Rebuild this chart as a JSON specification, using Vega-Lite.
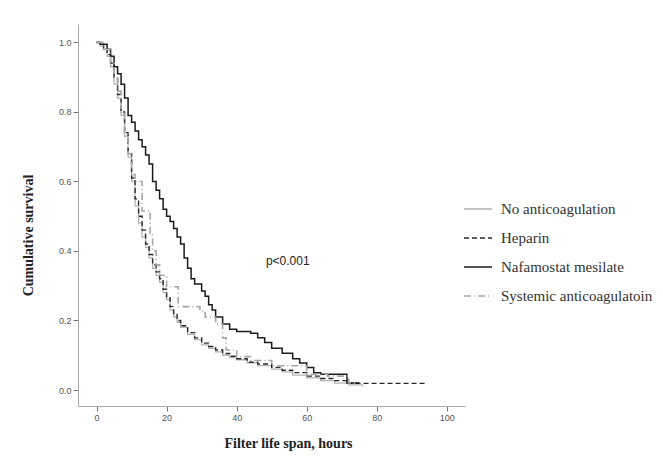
{
  "$schema": "https://vega.github.io/schema/vega-lite/v6.json",
  "width": 387,
  "height": 382,
  "autosize": {"type": "none"},
  "padding": {"left": 78, "top": 24, "right": 198, "bottom": 56},
  "background": "white",
  "config": {
    "view": {"stroke": null},
    "axis": {
      "grid": false,
      "domainColor": "#aaaaaa",
      "tickColor": "#777777",
      "tickSize": 5,
      "labelFont": "Liberation Sans",
      "labelFontSize": 9,
      "labelColor": "#555555",
      "titleFont": "Liberation Serif",
      "titleFontSize": 14,
      "titleFontWeight": "bold",
      "titleColor": "#222222"
    },
    "legend": {
      "labelFont": "Liberation Serif",
      "labelFontSize": 15,
      "labelColor": "#333333"
    }
  },
  "datasets": {
    "km": [
      {"group": "No anticoagulation", "t": 0, "s": 1.0},
      {"group": "No anticoagulation", "t": 1, "s": 0.99},
      {"group": "No anticoagulation", "t": 2, "s": 0.98},
      {"group": "No anticoagulation", "t": 3, "s": 0.96},
      {"group": "No anticoagulation", "t": 4, "s": 0.93},
      {"group": "No anticoagulation", "t": 5, "s": 0.88},
      {"group": "No anticoagulation", "t": 6, "s": 0.84},
      {"group": "No anticoagulation", "t": 7, "s": 0.79},
      {"group": "No anticoagulation", "t": 8, "s": 0.73},
      {"group": "No anticoagulation", "t": 9, "s": 0.67},
      {"group": "No anticoagulation", "t": 10, "s": 0.6},
      {"group": "No anticoagulation", "t": 11, "s": 0.53},
      {"group": "No anticoagulation", "t": 12, "s": 0.48},
      {"group": "No anticoagulation", "t": 13, "s": 0.44},
      {"group": "No anticoagulation", "t": 14, "s": 0.41},
      {"group": "No anticoagulation", "t": 15, "s": 0.38},
      {"group": "No anticoagulation", "t": 16, "s": 0.35},
      {"group": "No anticoagulation", "t": 17, "s": 0.33},
      {"group": "No anticoagulation", "t": 18, "s": 0.31},
      {"group": "No anticoagulation", "t": 19, "s": 0.28},
      {"group": "No anticoagulation", "t": 20, "s": 0.26},
      {"group": "No anticoagulation", "t": 21, "s": 0.23},
      {"group": "No anticoagulation", "t": 22, "s": 0.21},
      {"group": "No anticoagulation", "t": 23, "s": 0.195},
      {"group": "No anticoagulation", "t": 24, "s": 0.18},
      {"group": "No anticoagulation", "t": 26, "s": 0.16},
      {"group": "No anticoagulation", "t": 28, "s": 0.145},
      {"group": "No anticoagulation", "t": 30, "s": 0.13},
      {"group": "No anticoagulation", "t": 32, "s": 0.12},
      {"group": "No anticoagulation", "t": 34, "s": 0.11},
      {"group": "No anticoagulation", "t": 36, "s": 0.1},
      {"group": "No anticoagulation", "t": 38, "s": 0.093},
      {"group": "No anticoagulation", "t": 40, "s": 0.087},
      {"group": "No anticoagulation", "t": 43, "s": 0.078},
      {"group": "No anticoagulation", "t": 46, "s": 0.07},
      {"group": "No anticoagulation", "t": 50, "s": 0.06},
      {"group": "No anticoagulation", "t": 53, "s": 0.052},
      {"group": "No anticoagulation", "t": 56, "s": 0.043},
      {"group": "No anticoagulation", "t": 60, "s": 0.035},
      {"group": "No anticoagulation", "t": 64, "s": 0.027},
      {"group": "No anticoagulation", "t": 68, "s": 0.02},
      {"group": "No anticoagulation", "t": 72, "s": 0.015},
      {"group": "No anticoagulation", "t": 76, "s": 0.01},
      {"group": "Heparin", "t": 0, "s": 1.0},
      {"group": "Heparin", "t": 1, "s": 0.995},
      {"group": "Heparin", "t": 2, "s": 0.98},
      {"group": "Heparin", "t": 3, "s": 0.965},
      {"group": "Heparin", "t": 4, "s": 0.94},
      {"group": "Heparin", "t": 5, "s": 0.9},
      {"group": "Heparin", "t": 6, "s": 0.85},
      {"group": "Heparin", "t": 7, "s": 0.8},
      {"group": "Heparin", "t": 8, "s": 0.74},
      {"group": "Heparin", "t": 9, "s": 0.68},
      {"group": "Heparin", "t": 10, "s": 0.61},
      {"group": "Heparin", "t": 11, "s": 0.55},
      {"group": "Heparin", "t": 12, "s": 0.5},
      {"group": "Heparin", "t": 13, "s": 0.46},
      {"group": "Heparin", "t": 14, "s": 0.42},
      {"group": "Heparin", "t": 15, "s": 0.39},
      {"group": "Heparin", "t": 16, "s": 0.36},
      {"group": "Heparin", "t": 17, "s": 0.34},
      {"group": "Heparin", "t": 18, "s": 0.32},
      {"group": "Heparin", "t": 19, "s": 0.29},
      {"group": "Heparin", "t": 20, "s": 0.265},
      {"group": "Heparin", "t": 21, "s": 0.24},
      {"group": "Heparin", "t": 22, "s": 0.22},
      {"group": "Heparin", "t": 23, "s": 0.2},
      {"group": "Heparin", "t": 24, "s": 0.185},
      {"group": "Heparin", "t": 26, "s": 0.165},
      {"group": "Heparin", "t": 28, "s": 0.15},
      {"group": "Heparin", "t": 30, "s": 0.135},
      {"group": "Heparin", "t": 32, "s": 0.125},
      {"group": "Heparin", "t": 34, "s": 0.115},
      {"group": "Heparin", "t": 36, "s": 0.105},
      {"group": "Heparin", "t": 38, "s": 0.097},
      {"group": "Heparin", "t": 40, "s": 0.09},
      {"group": "Heparin", "t": 43, "s": 0.08},
      {"group": "Heparin", "t": 46, "s": 0.075},
      {"group": "Heparin", "t": 50, "s": 0.065},
      {"group": "Heparin", "t": 53, "s": 0.057},
      {"group": "Heparin", "t": 56, "s": 0.05},
      {"group": "Heparin", "t": 60, "s": 0.04},
      {"group": "Heparin", "t": 64, "s": 0.033},
      {"group": "Heparin", "t": 68, "s": 0.027},
      {"group": "Heparin", "t": 72, "s": 0.019},
      {"group": "Heparin", "t": 94, "s": 0.019},
      {"group": "Nafamostat mesilate", "t": 0, "s": 1.0},
      {"group": "Nafamostat mesilate", "t": 1, "s": 0.995},
      {"group": "Nafamostat mesilate", "t": 3, "s": 0.98},
      {"group": "Nafamostat mesilate", "t": 4, "s": 0.96},
      {"group": "Nafamostat mesilate", "t": 5, "s": 0.93},
      {"group": "Nafamostat mesilate", "t": 6, "s": 0.91},
      {"group": "Nafamostat mesilate", "t": 7, "s": 0.88},
      {"group": "Nafamostat mesilate", "t": 8, "s": 0.84},
      {"group": "Nafamostat mesilate", "t": 9, "s": 0.79},
      {"group": "Nafamostat mesilate", "t": 10, "s": 0.77},
      {"group": "Nafamostat mesilate", "t": 11, "s": 0.745},
      {"group": "Nafamostat mesilate", "t": 12, "s": 0.72},
      {"group": "Nafamostat mesilate", "t": 13, "s": 0.7},
      {"group": "Nafamostat mesilate", "t": 14, "s": 0.676},
      {"group": "Nafamostat mesilate", "t": 15, "s": 0.65},
      {"group": "Nafamostat mesilate", "t": 16, "s": 0.6},
      {"group": "Nafamostat mesilate", "t": 17, "s": 0.575},
      {"group": "Nafamostat mesilate", "t": 18, "s": 0.55},
      {"group": "Nafamostat mesilate", "t": 19, "s": 0.52},
      {"group": "Nafamostat mesilate", "t": 20, "s": 0.5},
      {"group": "Nafamostat mesilate", "t": 21, "s": 0.485},
      {"group": "Nafamostat mesilate", "t": 22, "s": 0.465},
      {"group": "Nafamostat mesilate", "t": 23, "s": 0.44},
      {"group": "Nafamostat mesilate", "t": 24, "s": 0.42},
      {"group": "Nafamostat mesilate", "t": 25, "s": 0.38},
      {"group": "Nafamostat mesilate", "t": 26, "s": 0.35},
      {"group": "Nafamostat mesilate", "t": 27, "s": 0.32},
      {"group": "Nafamostat mesilate", "t": 28, "s": 0.305},
      {"group": "Nafamostat mesilate", "t": 30, "s": 0.285},
      {"group": "Nafamostat mesilate", "t": 31, "s": 0.27},
      {"group": "Nafamostat mesilate", "t": 32, "s": 0.245},
      {"group": "Nafamostat mesilate", "t": 33, "s": 0.23},
      {"group": "Nafamostat mesilate", "t": 34, "s": 0.21},
      {"group": "Nafamostat mesilate", "t": 36, "s": 0.19},
      {"group": "Nafamostat mesilate", "t": 38, "s": 0.175},
      {"group": "Nafamostat mesilate", "t": 40, "s": 0.168},
      {"group": "Nafamostat mesilate", "t": 44, "s": 0.163},
      {"group": "Nafamostat mesilate", "t": 46, "s": 0.15},
      {"group": "Nafamostat mesilate", "t": 48, "s": 0.137},
      {"group": "Nafamostat mesilate", "t": 50, "s": 0.12},
      {"group": "Nafamostat mesilate", "t": 53, "s": 0.106},
      {"group": "Nafamostat mesilate", "t": 56, "s": 0.09},
      {"group": "Nafamostat mesilate", "t": 58, "s": 0.078},
      {"group": "Nafamostat mesilate", "t": 60, "s": 0.065},
      {"group": "Nafamostat mesilate", "t": 62, "s": 0.05},
      {"group": "Nafamostat mesilate", "t": 64, "s": 0.045},
      {"group": "Nafamostat mesilate", "t": 71.5, "s": 0.02},
      {"group": "Nafamostat mesilate", "t": 75, "s": 0.02},
      {"group": "Systemic anticoagulatoin", "t": 0, "s": 1.0},
      {"group": "Systemic anticoagulatoin", "t": 2, "s": 0.98},
      {"group": "Systemic anticoagulatoin", "t": 4, "s": 0.94},
      {"group": "Systemic anticoagulatoin", "t": 5, "s": 0.9},
      {"group": "Systemic anticoagulatoin", "t": 6, "s": 0.86},
      {"group": "Systemic anticoagulatoin", "t": 7, "s": 0.8},
      {"group": "Systemic anticoagulatoin", "t": 8, "s": 0.74},
      {"group": "Systemic anticoagulatoin", "t": 9, "s": 0.68},
      {"group": "Systemic anticoagulatoin", "t": 10, "s": 0.62},
      {"group": "Systemic anticoagulatoin", "t": 11, "s": 0.6},
      {"group": "Systemic anticoagulatoin", "t": 13, "s": 0.515},
      {"group": "Systemic anticoagulatoin", "t": 15.3, "s": 0.45},
      {"group": "Systemic anticoagulatoin", "t": 16, "s": 0.4},
      {"group": "Systemic anticoagulatoin", "t": 17, "s": 0.36},
      {"group": "Systemic anticoagulatoin", "t": 18, "s": 0.33},
      {"group": "Systemic anticoagulatoin", "t": 20, "s": 0.297},
      {"group": "Systemic anticoagulatoin", "t": 23.3, "s": 0.24},
      {"group": "Systemic anticoagulatoin", "t": 29.5, "s": 0.227},
      {"group": "Systemic anticoagulatoin", "t": 31, "s": 0.21},
      {"group": "Systemic anticoagulatoin", "t": 34, "s": 0.19},
      {"group": "Systemic anticoagulatoin", "t": 36, "s": 0.15},
      {"group": "Systemic anticoagulatoin", "t": 37, "s": 0.115},
      {"group": "Systemic anticoagulatoin", "t": 40, "s": 0.096},
      {"group": "Systemic anticoagulatoin", "t": 44, "s": 0.085},
      {"group": "Systemic anticoagulatoin", "t": 50, "s": 0.07},
      {"group": "Systemic anticoagulatoin", "t": 60, "s": 0.045},
      {"group": "Systemic anticoagulatoin", "t": 66, "s": 0.04},
      {"group": "Systemic anticoagulatoin", "t": 72, "s": 0.02},
      {"group": "Systemic anticoagulatoin", "t": 74, "s": 0.02}
    ],
    "note": [
      {"t": 54.6, "s": 0.37, "label": "p<0.001"}
    ]
  },
  "layer": [
    {
      "data": {"name": "km"},
      "mark": {"type": "line", "interpolate": "step-after"},
      "encoding": {
        "x": {
          "field": "t", "type": "quantitative",
          "scale": {"domain": [-5.3, 105.2], "nice": false, "zero": false},
          "axis": {
            "values": [0, 20, 40, 60, 80, 100],
            "title": "Filter life span, hours",
            "titleX": 210, "titleY": 37, "titleBaseline": "middle", "titleAlign": "center"
          }
        },
        "y": {
          "field": "s", "type": "quantitative",
          "scale": {"domain": [-0.046, 1.053], "nice": false, "zero": false},
          "axis": {
            "values": [0, 0.2, 0.4, 0.6, 0.8, 1.0],
            "format": ".1f",
            "title": "Cumulative survival",
            "titleX": -50, "titleY": 211, "titleBaseline": "middle", "titleAlign": "center", "titleAngle": -90
          }
        },
        "color": {
          "field": "group", "type": "nominal",
          "scale": {
            "domain": ["No anticoagulation", "Heparin", "Nafamostat mesilate", "Systemic anticoagulatoin"],
            "range": ["#b3b3b3", "#2a2a2a", "#1a1a1a", "#a6a6a6"]
          },
          "legend": {
            "title": null,
            "orient": "none",
            "legendX": 385,
            "legendY": 170,
            "symbolType": "stroke",
            "symbolSize": 784,
            "symbolStrokeWidth": 1.6,
            "rowPadding": 6,
            "labelOffset": 8,
            "labelFont": "Liberation Serif",
            "labelFontSize": 15,
            "labelColor": "#333333"
          }
        },
        "strokeDash": {
          "field": "group", "type": "nominal",
          "scale": {
            "domain": ["No anticoagulation", "Heparin", "Nafamostat mesilate", "Systemic anticoagulatoin"],
            "range": [[1, 0], [5, 3], [1, 0], [7, 3, 1, 3]]
          },
          "legend": null
        },
        "strokeWidth": {
          "field": "group", "type": "nominal",
          "scale": {
            "domain": ["No anticoagulation", "Heparin", "Nafamostat mesilate", "Systemic anticoagulatoin"],
            "range": [1.3, 1.6, 2.2, 1.3]
          },
          "legend": null
        }
      }
    },
    {
      "data": {"name": "note"},
      "mark": {"type": "text", "font": "Liberation Sans", "fontSize": 12, "color": "#222222"},
      "encoding": {
        "x": {"field": "t", "type": "quantitative"},
        "y": {"field": "s", "type": "quantitative"},
        "text": {"field": "label"}
      }
    }
  ]
}
